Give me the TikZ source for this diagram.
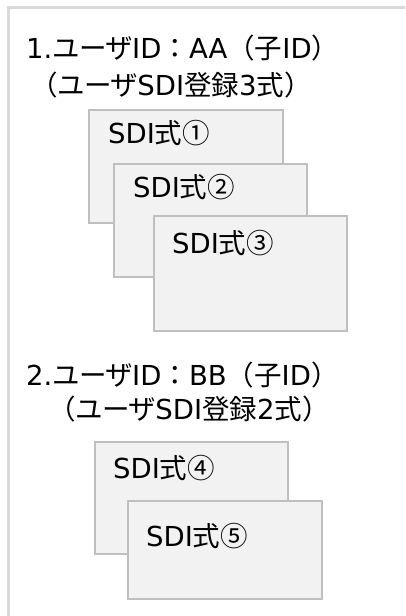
\documentclass[tikz,border=0pt]{standalone}
\usepackage{fontspec}
\setmainfont{DejaVu Sans}
\newfontfamily\jp{Noto Sans CJK JP}
\newfontfamily\kn{Noto Sans CJK JP}[RawFeature=+palt]
\definecolor{framegray}{HTML}{D9D9D9}
\definecolor{boxline}{HTML}{BFBFBF}
\definecolor{boxfill}{HTML}{F2F2F2}
\tikzset{
  sdibox/.style={draw=boxline, fill=boxfill, line width=2pt},
  lbl/.style={inner sep=0pt, anchor=base west, font=\fontsize{27.5pt}{30pt}\selectfont},
}
\begin{document}
\begin{tikzpicture}[x=1pt,y=-1pt]
\useasboundingbox (0,0) rectangle (405,616);
\clip (0,0) rectangle (405,616);
\fill[white] (0,0) rectangle (405,616);
\draw[framegray, line width=3pt] (8,7) rectangle (430,640);
% group 1
\node[lbl] (t1) at (26,58) {1.{\kn ユーザ}ID{\jp ：}AA{\jp （子}ID{\jp ）}};
\node[lbl] (t2) at (30,95) {{\jp （}{\kn ユーザ}SDI{\jp 登録}3{\jp 式）}};
\draw[sdibox] (89,110) rectangle (283,223);
\node[lbl] (s1) at (108,143) {SDI{\jp 式①}};
\draw[sdibox] (114,164) rectangle (307,277);
\node[lbl] (s2) at (133,197) {SDI{\jp 式②}};
\draw[sdibox] (154,216) rectangle (347,331);
\node[lbl] (s3) at (172,253) {SDI{\jp 式③}};
% group 2
\node[lbl] (t3) at (26,385) {2.{\kn ユーザ}ID{\jp ：}BB{\jp （子}ID{\jp ）}};
\node[lbl] (t4) at (48,419) {{\jp （}{\kn ユーザ}SDI{\jp 登録}2{\jp 式）}};
\draw[sdibox] (95,442) rectangle (288,554);
\node[lbl] (s4) at (113,478) {SDI{\jp 式④}};
\draw[sdibox] (128,501) rectangle (322,599);
\node[lbl] (s5) at (146,546) {SDI{\jp 式⑤}};
\end{tikzpicture}
\end{document}
